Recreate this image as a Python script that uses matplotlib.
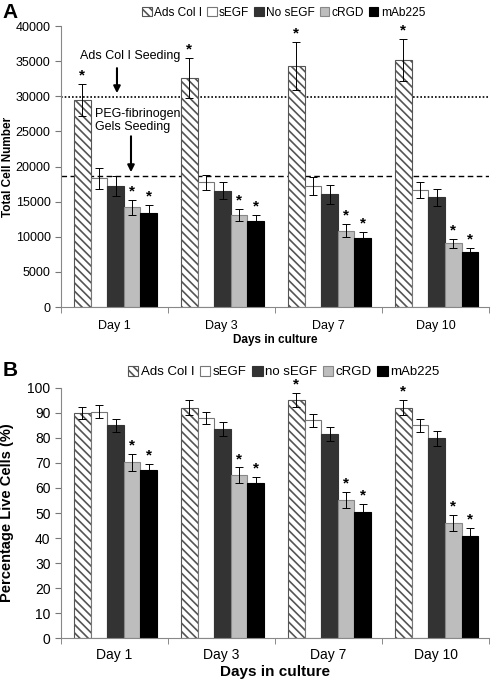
import matplotlib.pyplot as plt
import numpy as np
from matplotlib.patches import Patch

plt.rcParams['font.family'] = ['Liberation Sans', 'DejaVu Sans']
plt.rcParams['hatch.linewidth'] = 1.2

# data
days = ['Day 1', 'Day 3', 'Day 7', 'Day 10']
groups_a = ['Ads Col I', 'sEGF', 'No sEGF', 'cRGD', 'mAb225']
groups_b = ['Ads Col I', 'sEGF', 'no sEGF', 'cRGD', 'mAb225']

# panel A : total cell number
ads_a = [29500, 32550, 34300, 35150]
segf_a = [18300, 17750, 17200, 16650]
nosegf_a = [17250, 16550, 16050, 15600]
crgd_a = [14200, 13100, 10850, 9050]
mab_a = [13400, 12200, 9800, 7900]
ads_a_err = [2300, 2850, 3400, 3000]
segf_a_err = [1500, 1050, 1300, 1100]
nosegf_a_err = [1400, 1200, 1350, 1150]
crgd_a_err = [1100, 850, 950, 600]
mab_a_err = [1100, 850, 850, 550]
star_a = [[1, 1, 1, 1], [0, 0, 0, 0], [0, 0, 0, 0], [1, 1, 1, 1], [1, 1, 1, 1]]
ads_seeding = 29900
gel_seeding = 18650

# panel B : percentage live cells
ads_b = [90, 92, 95, 92]
segf_b = [90.5, 88, 87, 85]
nosegf_b = [85, 83.5, 81.5, 79.8]
crgd_b = [70.2, 65, 55.3, 46]
mab_b = [67, 62, 50.5, 40.8]
ads_b_err = [2.5, 3, 2.8, 3]
segf_b_err = [2.7, 2.3, 2.7, 2.5]
nosegf_b_err = [2.7, 2.8, 2.8, 3]
crgd_b_err = [3.5, 3.2, 3.2, 3.1]
mab_b_err = [2.6, 2.5, 3, 3.1]
star_b = [[0, 0, 1, 1], [0, 0, 0, 0], [0, 0, 0, 0], [1, 1, 1, 1], [1, 1, 1, 1]]

fills = ['white', 'white', '#333333', '#bdbdbd', 'black']
edges = ['#555555', '#777777', '#333333', '#888888', 'black']
hatches = ['\\\\\\\\', '', '', '', '']
w = 0.155


def draw(ax, vals, errs, stars, ymax, step, fs_tick, fs_lab, ylabel, lpad):
	x = np.arange(len(days))
	for j in range(5):
		xs = x + (j - 2) * w + 0.01
		ax.bar(xs, vals[j], w, color=fills[j], edgecolor=edges[j], hatch=hatches[j],
			linewidth=0.8, zorder=2)
		ax.errorbar(xs, vals[j], yerr=errs[j], fmt='none', ecolor='black',
			elinewidth=0.7, capsize=3, capthick=0.7, zorder=3)
		for i in range(len(days)):
			if stars[j][i]:
				ax.annotate('*', (xs[i], vals[j][i] + errs[j][i]), xytext=(0, 1),
					textcoords='offset points', ha='center', va='bottom',
					fontsize=11, fontweight='bold')
	ax.set_xlim(-0.5, len(days) - 0.5)
	ax.set_ylim(0, ymax)
	ax.set_yticks(np.arange(0, ymax + 1, step))
	ax.set_xticks(x)
	ax.set_xticklabels(days, fontsize=fs_tick)
	ax.set_xticks(np.arange(-0.5, len(days), 1), minor=True)
	ax.tick_params(axis='x', which='major', length=0, pad=lpad)
	ax.tick_params(axis='x', which='minor', length=4, color='#777777')
	ax.tick_params(axis='y', length=4, color='#777777', labelsize=fs_tick)
	for s in ['top', 'right']:
		ax.spines[s].set_visible(False)
	for s in ['left', 'bottom']:
		ax.spines[s].set_color('#888888')
	ax.set_xlabel('Days in culture', fontsize=fs_lab, fontweight='bold', labelpad=2)
	ax.set_ylabel(ylabel, fontsize=fs_lab, fontweight='bold')


fig = plt.figure(figsize=(4.96, 6.83), dpi=100)
axA = fig.add_axes([0.123, 0.5505, 0.863, 0.4114])
axB = fig.add_axes([0.123, 0.0654, 0.863, 0.3669])

draw(axA, [ads_a, segf_a, nosegf_a, crgd_a, mab_a],
	[ads_a_err, segf_a_err, nosegf_a_err, crgd_a_err, mab_a_err],
	star_a, 40000, 5000, 9, 8.5, 'Total Cell Number', 9)
axA.yaxis.set_label_coords(-0.11, 0.5)
axA.axhline(ads_seeding, color='black', linestyle=(0, (1, 1.2)), linewidth=1.2, zorder=1)
axA.axhline(gel_seeding, color='black', linestyle=(0, (4, 2.5)), linewidth=1.0, zorder=1)
axA.annotate('', xy=(0.023, ads_seeding + 150), xytext=(0.023, 34400),
	arrowprops=dict(arrowstyle='-|>', color='black', lw=1.5, mutation_scale=10))
axA.text(0.145, 35700, 'Ads Col I Seeding', ha='center', va='center', fontsize=9)
axA.annotate('', xy=(0.154, gel_seeding + 150), xytext=(0.154, 24700),
	arrowprops=dict(arrowstyle='-|>', color='black', lw=1.5, mutation_scale=10))
axA.text(-0.18, 26500, 'PEG-fibrinogen\nGels Seeding', ha='left', va='center',
	fontsize=9, linespacing=1.1)

draw(axB, [ads_b, segf_b, nosegf_b, crgd_b, mab_b],
	[ads_b_err, segf_b_err, nosegf_b_err, crgd_b_err, mab_b_err],
	star_b, 100, 10, 10, 11, 'Percentage Live Cells (%)', 7)
axB.yaxis.label.set_fontsize(10.5)
axB.yaxis.set_label_coords(-0.11, 0.5)

def legend(labels, y, fs):
	handles = [Patch(facecolor=fills[j], edgecolor=edges[j], hatch=hatches[j], linewidth=0.8)
		for j in range(5)]
	fig.legend(handles, labels, loc='center', bbox_to_anchor=(0.572, y), ncol=5,
		frameon=False, fontsize=fs, handlelength=0.8, handleheight=0.8,
		handletextpad=0.2, columnspacing=0.4, borderpad=0)

legend(groups_a, 1 - 13 / 683, 8.6)
legend(groups_b, 1 - 372 / 683, 9.5)

fig.text(0.005, 1 - 12 / 683, 'A', fontsize=15, fontweight='bold', va='center')
fig.text(0.005, 1 - 370 / 683, 'B', fontsize=15, fontweight='bold', va='center')

plt.savefig('out.png', dpi=100)
